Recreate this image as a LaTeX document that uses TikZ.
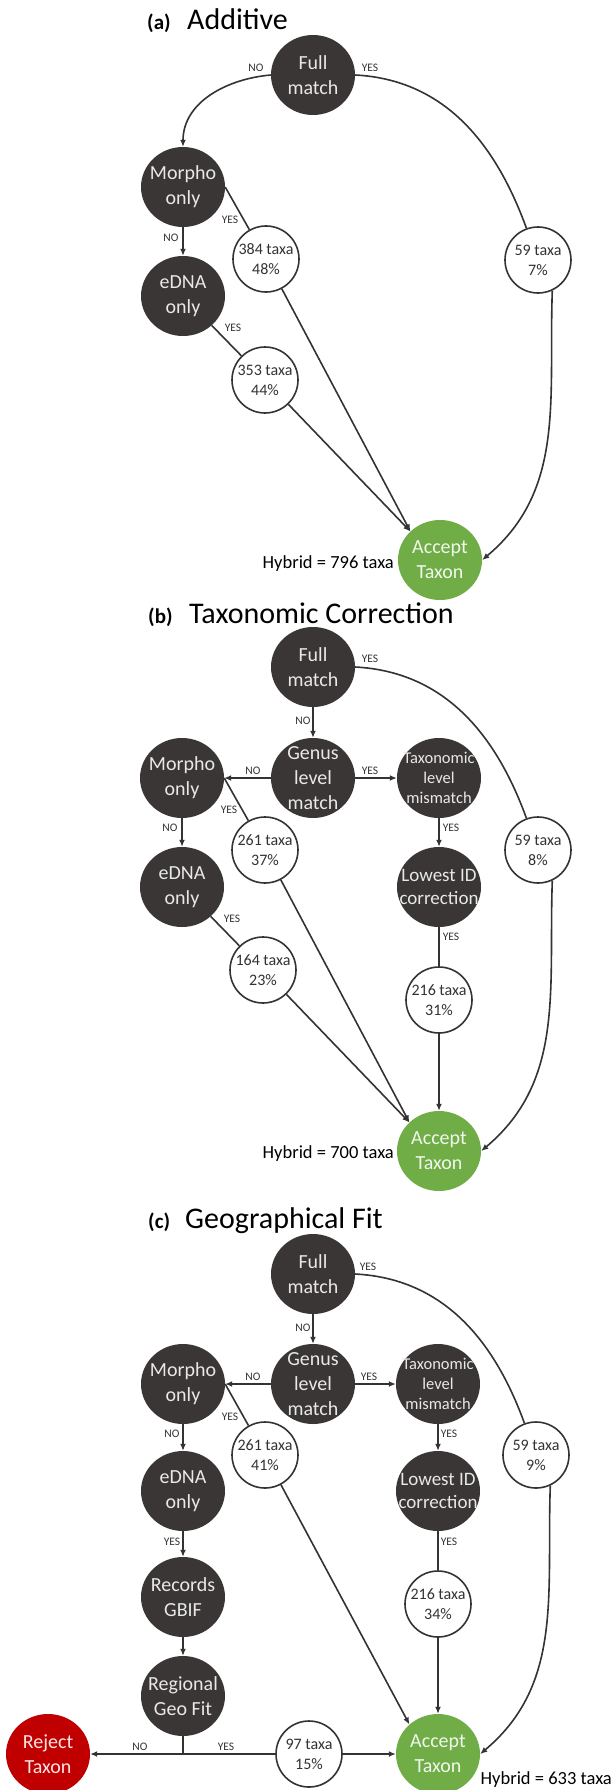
\documentclass[tikz,border=0pt]{standalone}
\usepackage{fontspec}
\setmainfont{Carlito}
\usetikzlibrary{shapes.geometric,arrows.meta}
\definecolor{dk}{RGB}{58,54,54}
\definecolor{gr}{RGB}{112,173,71}
\definecolor{rd}{RGB}{192,0,0}
\definecolor{lnc}{RGB}{51,51,51}
\definecolor{lt}{RGB}{232,232,232}
\begin{document}
\begin{tikzpicture}[x=1pt,y=1pt,
  dec/.style={ellipse, fill=dk, minimum width=84pt, minimum height=80pt, inner sep=0pt},
  acc/.style={dec, fill=gr},
  rej/.style={dec, fill=rd},
  dtx/.style={text=lt, align=center, inner sep=0pt, font=\fontsize{20}{25}\selectfont},
  atx/.style={dtx, text=white!90!gr},
  rtx/.style={dtx, text=white!90!rd},
  cnt/.style={circle, draw=lnc, line width=1.6pt, fill=white, minimum size=66pt, inner sep=0pt},
  ctx/.style={text=lnc, align=center, inner sep=0pt, font=\fontsize{16}{20}\selectfont},
  lab/.style={text=lnc, font=\fontsize{11.5}{12}\selectfont, inner sep=0pt},
  ttl/.style={anchor=base west, inner sep=0pt, font=\fontsize{30}{32}\selectfont},
  ttlb/.style={anchor=base west, inner sep=0pt, font=\fontsize{21}{22}\selectfont\bfseries},
  hyb/.style={inner sep=0pt, anchor=base east, font=\fontsize{18.5}{22}\selectfont},
  taxf/.style={font=\fontsize{16.5}{20}\selectfont},
  lowf/.style={font=\fontsize{19}{23}\selectfont},
  cn/.style={draw=lnc, line width=1.6pt},
  arr/.style={cn, -{Latex[length=7pt,width=6pt]}},
]
\fill[white] (0,0) rectangle (614,-1790);
\useasboundingbox (0,0) rectangle (614,-1790);

% ---------------- (a) ----------------
\node[ttlb] (ta1) at (147,-30) {(a)};
\node[ttl] (ta2) at (187,-30) {Additive};
\node[dec,label={[dtx]center:{Full\\match}}] (Fa) at (313,-75) {};
\node[dec,label={[dtx]center:{Morpho\\only}}] (Ma) at (183,-187) {};
\node[dec,label={[dtx]center:{eDNA\\only}}] (Ea) at (183,-296) {};
\node[cnt,label={[ctx]center:{384 taxa\\48\%}}] (Na) at (266,-259) {};
\node[cnt,label={[ctx]center:{59 taxa\\7\%}}] (Ya) at (538,-260) {};
\node[cnt,label={[ctx]center:{353 taxa\\44\%}}] (Sa) at (265,-380) {};
\node[acc,label={[atx]center:{Accept\\Taxon}}] (Aa) at (440,-560) {};
\node[hyb] (ha) at (394,-568) {Hybrid = 796 taxa};

\draw[arr] (Fa.west) to[out=185,in=90] (Ma.north);
\draw[cn] (Fa.east) to[out=-3,in=110] (Ya.110);
\draw[arr] (Ya.-65) to[out=-92,in=40] (Aa.east);
\draw[cn] (Ma.east) -- (Na);
\draw[arr] (Na) -- (Aa.136);
\draw[arr] (Ma) -- (Ea);
\draw[cn] (Ea) -- (Sa);
\draw[arr] (Sa) -- (Aa.136);

\node[lab] (la1) at (256,-68) {NO};
\node[lab] (la2) at (370,-68) {YES};
\node[lab] (la3) at (230,-220) {YES};
\node[lab] (la4) at (171,-238) {NO};
\node[lab] (la5) at (233,-328) {YES};

% ---------------- (b) ----------------
\node[ttlb] (tb1) at (148,-623) {(b)};
\node[ttl] (tb2) at (189,-623) {Taxonomic Correction};
\node[dec,label={[dtx]center:{Full\\match}}] (Fb) at (313,-667) {};
\node[dec,label={[dtx]center:{Genus\\level\\match}}] (Gb) at (313,-778) {};
\node[dec,label={[dtx]center:{Morpho\\only}}] (Mb) at (182,-778) {};
\node[dec,label={[dtx,taxf]center:{Taxonomic\\level\\mismatch}}] (Tb) at (439,-778) {};
\node[cnt,label={[ctx]center:{261 taxa\\37\%}}] (Nb) at (265,-850) {};
\node[cnt,label={[ctx]center:{59 taxa\\8\%}}] (Yb) at (538,-850) {};
\node[dec,label={[dtx]center:{eDNA\\only}}] (Eb) at (182,-887) {};
\node[dec,label={[dtx,lowf]center:{Lowest ID\\correction}}] (Lb) at (439,-887) {};
\node[cnt,label={[ctx]center:{164 taxa\\23\%}}] (Sb) at (263,-970) {};
\node[cnt,label={[ctx]center:{216 taxa\\31\%}}] (Cb) at (439,-1000) {};
\node[acc,label={[atx]center:{Accept\\Taxon}}] (Ab) at (439,-1151) {};
\node[hyb] (hb) at (394,-1158) {Hybrid = 700 taxa};

\draw[arr] (Fb) -- (Gb);
\draw[arr] (Gb) -- (Mb);
\draw[arr] (Gb) -- (Tb);
\draw[arr] (Tb) -- (Lb);
\draw[cn] (Lb) -- (Cb);
\draw[arr] (Cb) -- (Ab);
\draw[cn] (Fb.east) to[out=-3,in=110] (Yb.110);
\draw[arr] (Yb.-65) to[out=-92,in=40] (Ab.east);
\draw[cn] (Mb.east) -- (Nb);
\draw[arr] (Nb) -- (Ab.136);
\draw[arr] (Mb) -- (Eb);
\draw[cn] (Eb) -- (Sb);
\draw[arr] (Sb) -- (Ab.136);

\node[lab] (lb1) at (370,-659) {YES};
\node[lab] (lb2) at (303,-721) {NO};
\node[lab] (lb3) at (253,-771) {NO};
\node[lab] (lb4) at (370,-771) {YES};
\node[lab] (lb5) at (229,-810) {YES};
\node[lab] (lb6) at (170,-828) {NO};
\node[lab] (lb7) at (451,-828) {YES};
\node[lab] (lb8) at (232,-919) {YES};
\node[lab] (lb9) at (451,-937) {YES};

% ---------------- (c) ----------------
\node[ttlb] (tc1) at (148,-1228) {(c)};
\node[ttl] (tc2) at (185,-1228) {Geographical Fit};
\node[dec,label={[dtx]center:{Full\\match}}] (Fc) at (313,-1274) {};
\node[dec,label={[dtx]center:{Genus\\level\\match}}] (Gc) at (313,-1384) {};
\node[dec,label={[dtx]center:{Morpho\\only}}] (Mc) at (183,-1384) {};
\node[dec,label={[dtx,taxf]center:{Taxonomic\\level\\mismatch}}] (Tc) at (438,-1384) {};
\node[cnt,label={[ctx]center:{261 taxa\\41\%}}] (Nc) at (265,-1455) {};
\node[cnt,label={[ctx]center:{59 taxa\\9\%}}] (Yc) at (536,-1455) {};
\node[dec,label={[dtx]center:{eDNA\\only}}] (Ec) at (183,-1491) {};
\node[dec,label={[dtx,lowf]center:{Lowest ID\\correction}}] (Lc) at (438,-1491) {};
\node[dec,label={[dtx]center:{Records\\GBIF}}] (Rc) at (183,-1597) {};
\node[cnt,label={[ctx]center:{216 taxa\\34\%}}] (Cc) at (438,-1604) {};
\node[dec,label={[dtx]center:{Regional\\Geo Fit}}] (Gf) at (183,-1696) {};
\node[rej,label={[rtx]center:{Reject\\Taxon}}] (Rj) at (48,-1754) {};
\node[cnt,label={[ctx]center:{97 taxa\\15\%}}] (Pc) at (309,-1754) {};
\node[acc,label={[atx]center:{Accept\\Taxon}}] (Ac) at (438,-1754) {};
\coordinate (J) at (183,-1754);
\node[hyb] (hc) at (612,-1784) {Hybrid = 633 taxa};

\draw[arr] (Fc) -- (Gc);
\draw[arr] (Gc) -- (Mc);
\draw[arr] (Gc) -- (Tc);
\draw[arr] (Tc) -- (Lc);
\draw[cn] (Lc) -- (Cc);
\draw[arr] (Cc) -- (Ac);
\draw[cn] (Fc.east) to[out=-3,in=110] (Yc.110);
\draw[arr] (Yc.-65) to[out=-92,in=40] (Ac.east);
\draw[cn] (Mc.east) -- (Nc);
\draw[arr] (Nc) -- (Ac.134);
\draw[arr] (Mc) -- (Ec);
\draw[arr] (Ec) -- (Rc);
\draw[arr] (Rc) -- (Gf);
\draw[cn] (Gf) -- (J);
\draw[arr] (J) -- (Rj);
\draw[cn] (J) -- (Pc);
\draw[arr] (Pc) -- (Ac);

\node[lab] (lc1) at (368,-1267) {YES};
\node[lab] (lc2) at (303,-1328) {NO};
\node[lab] (lc3) at (253,-1377) {NO};
\node[lab] (lc4) at (369,-1377) {YES};
\node[lab] (lc5) at (230,-1417) {YES};
\node[lab] (lc6) at (172,-1434) {NO};
\node[lab] (lc7) at (449,-1434) {YES};
\node[lab] (lc8) at (172,-1542) {YES};
\node[lab] (lc9) at (449,-1542) {YES};
\node[lab] (lc10) at (140,-1747) {NO};
\node[lab] (lc11) at (226,-1747) {YES};
\end{tikzpicture}
\end{document}
